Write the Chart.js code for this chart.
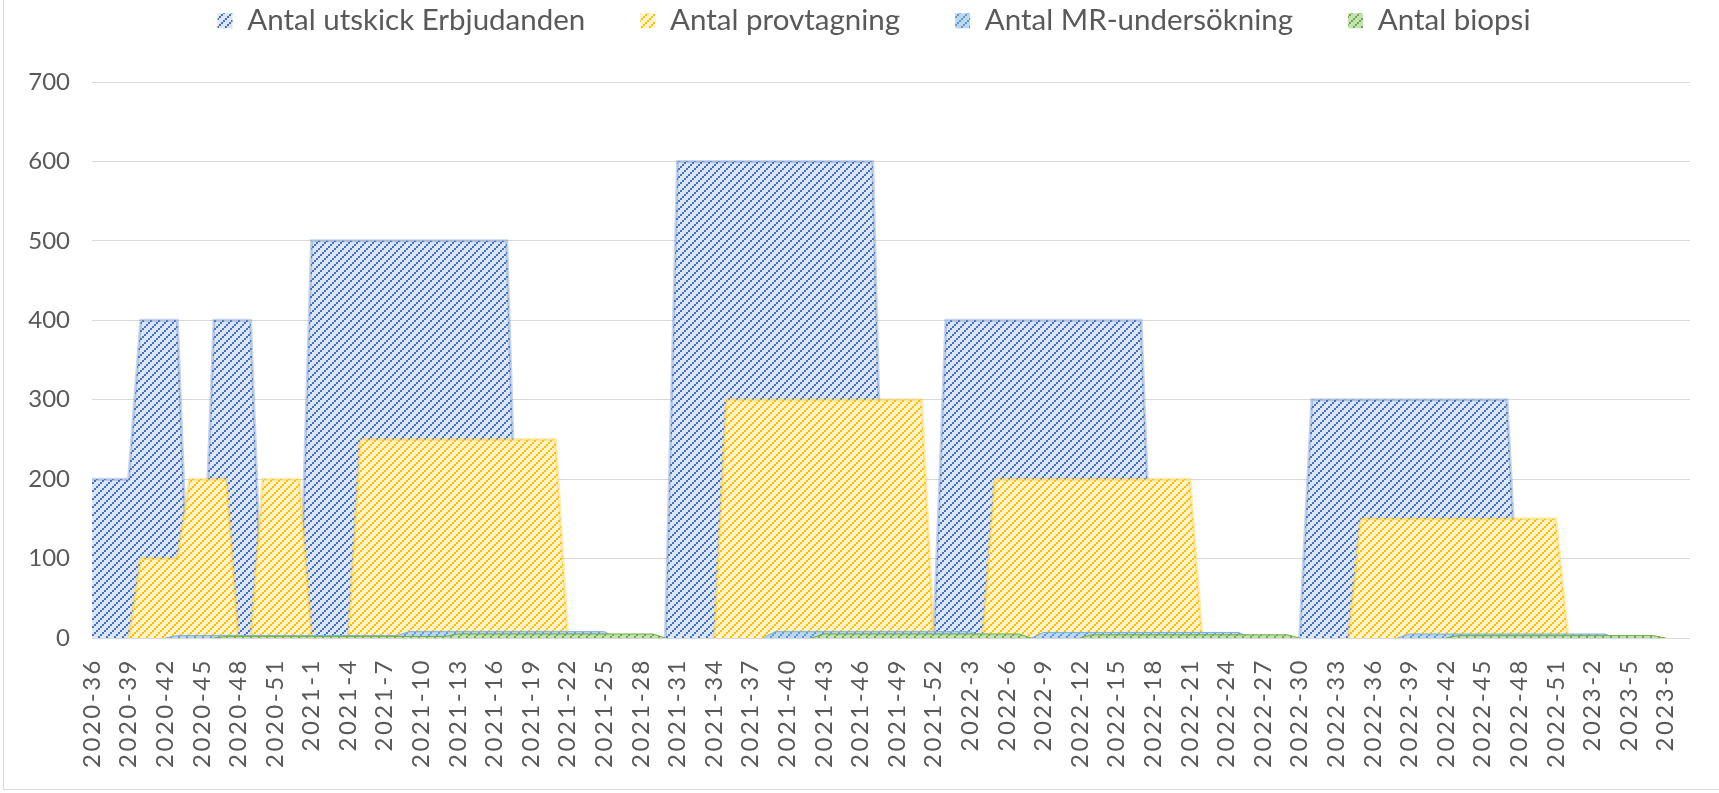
<!DOCTYPE html>
<html lang="sv">
<head>
<meta charset="UTF-8">
<title>Antal per vecka</title>
<script src="https://cdn.jsdelivr.net/npm/chart.js"></script>
<style>
  body { margin: 0; background: #fff; }
  #wrap { position: relative; width: 1719px; height: 793px; }
  #frame {
    position: absolute; left: 3px; top: -1px; width: 1720px; height: 789px;
    border: 1px solid #d9d9d9; pointer-events: none;
  }
</style>
</head>
<body>
<div id="wrap">
  <canvas id="chart" width="1719" height="793"></canvas>
  <div id="frame"></div>
</div>
<script>
// kategorier: vecka (år-vecka)
const weeks = [
  '2020-36','2020-37','2020-38','2020-39','2020-40','2020-41','2020-42','2020-43','2020-44','2020-45',
  '2020-46','2020-47','2020-48','2020-49','2020-50','2020-51','2020-52','2020-53',
  '2021-1','2021-2','2021-3','2021-4','2021-5','2021-6','2021-7','2021-8','2021-9','2021-10',
  '2021-11','2021-12','2021-13','2021-14','2021-15','2021-16','2021-17','2021-18','2021-19','2021-20',
  '2021-21','2021-22','2021-23','2021-24','2021-25','2021-26','2021-27','2021-28','2021-29','2021-30',
  '2021-31','2021-32','2021-33','2021-34','2021-35','2021-36','2021-37','2021-38','2021-39','2021-40',
  '2021-41','2021-42','2021-43','2021-44','2021-45','2021-46','2021-47','2021-48','2021-49','2021-50',
  '2021-51','2021-52',
  '2022-1','2022-2','2022-3','2022-4','2022-5','2022-6','2022-7','2022-8','2022-9','2022-10',
  '2022-11','2022-12','2022-13','2022-14','2022-15','2022-16','2022-17','2022-18','2022-19','2022-20',
  '2022-21','2022-22','2022-23','2022-24','2022-25','2022-26','2022-27','2022-28','2022-29','2022-30',
  '2022-31','2022-32','2022-33','2022-34','2022-35','2022-36','2022-37','2022-38','2022-39','2022-40',
  '2022-41','2022-42','2022-43','2022-44','2022-45','2022-46','2022-47','2022-48','2022-49','2022-50',
  '2022-51','2022-52',
  '2023-1','2023-2','2023-3','2023-4','2023-5','2023-6','2023-7','2023-8','2023-9','2023-10'
];

// Antal utskick Erbjudanden
const utskick = [
  200,200,200,200,400,400,400,400,0,0,400,400,400,400,0,0,0,0,
  500,500,500,500,500,500,500,500,500,500,500,500,500,500,500,500,500,
  0,0,0,0,0,0,0,0,0,0,0,0,0,
  600,600,600,600,600,600,600,600,600,600,600,600,600,600,600,600,600,
  0,0,0,0,0,
  400,400,400,400,400,400,400,400,400,400,400,400,400,400,400,400,400,
  0,0,0,0,0,0,0,0,0,0,0,0,0,
  300,300,300,300,300,300,300,300,300,300,300,300,300,300,300,300,300,
  0,0,0,0,0,
  0,0,0,0,0,0,0,0,0,0
];

// Antal provtagning
const provtagning = [
  0,0,0,0,100,100,100,100,200,200,200,200,0,0,200,200,200,200,
  0,0,0,0,
  250,250,250,250,250,250,250,250,250,250,250,250,250,250,250,250,250,
  0,0,0,0,0,0,0,0,0,0,0,0,0,
  300,300,300,300,300,300,300,300,300,300,300,300,300,300,300,300,300,
  0,
  0,0,0,0,
  200,200,200,200,200,200,200,200,200,200,200,200,200,200,200,200,200,
  0,0,0,0,0,0,0,0,0,0,0,0,0,
  150,150,150,150,150,150,150,150,150,150,150,150,150,150,150,150,150,
  0,
  0,0,0,0,0,0,0,0,0,0
];

// Antal MR-undersökning
const mr = [
  0,0,0,0,0,0,0,3,3,3,3,3,3,3,3,3,3,3,
  3,3,3,3,3,3,3,3,
  8,8,8,8,8,8,8,8,8,8,8,8,8,8,8,8,8,
  0,0,0,0,0,0,0,0,0,0,0,0,0,
  8,8,8,8,8,8,8,8,8,8,8,8,8,8,
  8,8,8,
  0,0,0,0,0,
  7,7,7,7,7,7,7,7,7,7,7,7,7,7,7,7,7,
  0,0,0,0,0,0,0,0,0,0,0,0,0,
  5,5,5,5,5,5,5,5,5,5,5,5,5,5,
  5,5,5,0,0,0,0,0,0,0
];

// Antal biopsi
const biopsi = [
  0,0,0,0,0,0,0,0,0,0,0,2,2,2,2,2,2,2,
  2,2,2,2,2,2,2,2,2,2,2,2,
  5,5,5,5,5,5,5,5,5,5,5,5,5,5,5,5,5,
  0,0,0,0,0,0,0,0,0,0,0,0,0,
  5,5,5,5,5,5,5,5,5,5,
  5,5,5,5,5,5,5,
  0,0,0,0,0,
  4,4,4,4,4,4,4,4,4,4,4,4,4,4,4,4,4,
  0,0,0,0,0,0,0,0,0,0,0,0,0,
  3,3,3,3,3,3,3,3,3,3,
  3,3,3,3,3,3,3,0,0,0
];

const yTicks = [0, 100, 200, 300, 400, 500, 600, 700];

// mönsterfyllning: diagonal uppåt
function hatch(fg, bg) {
  const c = document.createElement('canvas');
  c.width = 8; c.height = 8;
  const g = c.getContext('2d');
  g.fillStyle = bg;
  g.fillRect(0, 0, 8, 8);
  g.fillStyle = fg;
  for (let k = 0; k < 4; k++) g.fillRect(k * 2, 6 - k * 2, 2, 2);
  return g.createPattern(c, 'repeat');
}

const hideFlat = ctx => (ctx.p0.parsed.y === 0 && ctx.p1.parsed.y === 0) ? 'rgba(0,0,0,0)' : undefined;

function area(label, data, fg, bg, edge, width, order) {
  return {
    label: label,
    data: data,
    backgroundColor: hatch(fg, bg),
    borderColor: edge,
    borderWidth: width,
    fill: 'origin',
    pointRadius: 0,
    tension: 0,
    order: order,
    segment: { borderColor: hideFlat }
  };
}

// flyttar legenden och ger plats under den, samt glesare x-etiketter
const layoutTweaks = {
  id: 'layoutTweaks',
  beforeUpdate(chart) {
    const lg = chart.legend;
    if (!lg || lg._gap) return;
    lg._gap = true;
    const fit = lg.fit, draw = lg.draw;
    lg.fit = function () { fit.call(this); this.height = 82; };
    lg.draw = function () {
      const top = this.top;
      this.top = top - 49;
      this.ctx.save();
      this.ctx.translate(29, 0);
      draw.apply(this, arguments);
      this.ctx.restore();
      this.top = top;
    };
  },
  beforeDraw(chart) {
    const sx = chart.scales.x;
    if (!sx || sx._spaced) return;
    sx._spaced = true;
    const drawLabels = sx.drawLabels;
    sx.drawLabels = function () {
      const ctx = this.ctx;
      ctx.save();
      ctx.letterSpacing = '2.5px';
      drawLabels.apply(this, arguments);
      ctx.restore();
    };
  }
};

const font = 'Lato';

new Chart(document.getElementById('chart'), {
  type: 'line',
  data: {
    labels: weeks,
    datasets: [
      area('Antal utskick Erbjudanden', utskick, '#4472c4', '#dde6f5', 'rgba(68,114,196,0.3)', 3, 4),
      area('Antal provtagning', provtagning, '#ffc000', '#fff2cc', 'rgba(255,192,0,0.3)', 3, 3),
      area('Antal MR-undersökning', mr, '#5b9bd5', '#bdd7ee', '#7fb0e0', 1, 2),
      area('Antal biopsi', biopsi, '#70ad47', '#c5e0b4', '#70ad47', 1, 1)
    ]
  },
  options: {
    responsive: false,
    devicePixelRatio: 1,
    animation: false,
    layout: { padding: { left: 0, right: 29, top: 0, bottom: 0 } },
    plugins: {
      legend: {
        position: 'top',
        reverse: true,
        labels: {
          boxWidth: 15,
          boxHeight: 15,
          padding: 55,
          color: '#595959',
          font: { family: font, size: 29.5 },
          generateLabels(chart) {
            const items = Chart.defaults.plugins.legend.labels.generateLabels(chart);
            items.forEach(it => { it.lineWidth = 0; });
            return items;
          }
        }
      },
      tooltip: { enabled: false }
    },
    scales: {
      x: {
        offset: false,
        grid: { display: false },
        border: { display: false },
        ticks: {
          autoSkip: false,
          minRotation: 90,
          maxRotation: 90,
          padding: 12,
          color: '#595959',
          font: { family: font, size: 24 },
          callback(val, idx) { return idx % 3 === 0 ? this.getLabelForValue(val) : ''; }
        },
        afterFit(scale) {
          scale.height = 155;
          scale.paddingLeft = 0;
          scale.paddingRight = 0;
        }
      },
      y: {
        min: 0,
        max: 700,
        afterBuildTicks(scale) { scale.ticks = yTicks.map(v => ({ value: v })); },
        grid: { color: '#d9d9d9', lineWidth: 1, drawTicks: false },
        border: { display: false },
        ticks: {
          padding: 22,
          color: '#595959',
          font: { family: font, size: 24 }
        },
        afterFit(scale) { scale.width = 92; }
      }
    }
  },
  plugins: [layoutTweaks]
});
</script>
</body>
</html>
